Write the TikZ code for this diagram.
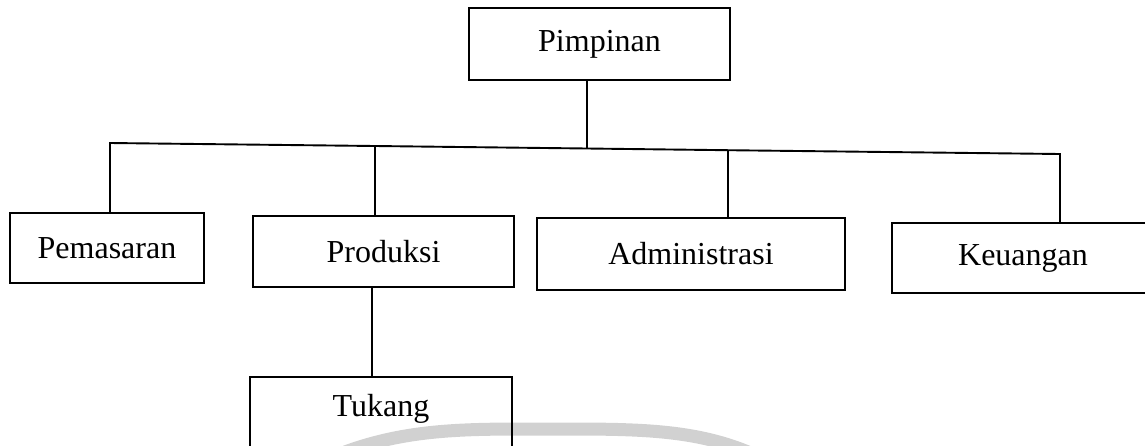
\documentclass[tikz,border=0pt]{standalone}
\usepackage{fontspec}
\setmainfont{Liberation Serif}
\begin{document}
\begin{tikzpicture}[x=0.5pt,y=-0.5pt,
  orgbox/.style={draw, line width=0.95pt, inner sep=0pt, align=center,
    font=\fontsize{16}{19}\selectfont},
  link/.style={line width=0.95pt},
  wmark/.style={line width=6.5pt, color=black!18}]
\useasboundingbox (0,0) rectangle (1145,445);
\clip (0,0) rectangle (1145,445);
% faint watermark arc
\draw[wmark] (345,452) .. controls (410,428) and (470,429) .. (545,429)
  .. controls (630,429) and (690,428) .. (748,452);
% boxes
\node[orgbox, minimum width=130.5pt, minimum height=36pt] (pim) at (599.5,44) {Pimpinan};
\node[orgbox, minimum width=97pt, minimum height=35pt] (pem) at (107,248) {Pemasaran};
\node[orgbox, minimum width=130.5pt, minimum height=35.5pt] (pro) at (383.5,251.5) {Produksi};
\node[orgbox, minimum width=154pt, minimum height=36pt] (adm) at (691,254) {Administrasi};
\node[orgbox, minimum width=131pt, minimum height=35pt] (keu) at (1023,258) {Keuangan};
\node[orgbox, minimum width=131pt, minimum height=38pt, text depth=10pt] (tuk) at (381,415) {Tukang};
% points where the stems meet the (slightly tilted) bus line
\coordinate (b1) at (110,143);
\coordinate (b2) at (375,146);
\coordinate (b0) at (587,148.5);
\coordinate (b3) at (728,150.2);
\coordinate (b4) at (1060,154);
\coordinate (s5) at (372,0);
% connectors
\draw[link] (pim.south -| b0) -- (b0);
\draw[link] (pem.north -| b1) -- (b1) -- (b2) -- (b0) -- (b3) -- (b4) -- (keu.north -| b4);
\draw[link] (b2) -- (pro.north -| b2);
\draw[link] (b3) -- (adm.north -| b3);
\draw[link] (pro.south -| s5) -- (tuk.north -| s5);
\end{tikzpicture}
\end{document}
